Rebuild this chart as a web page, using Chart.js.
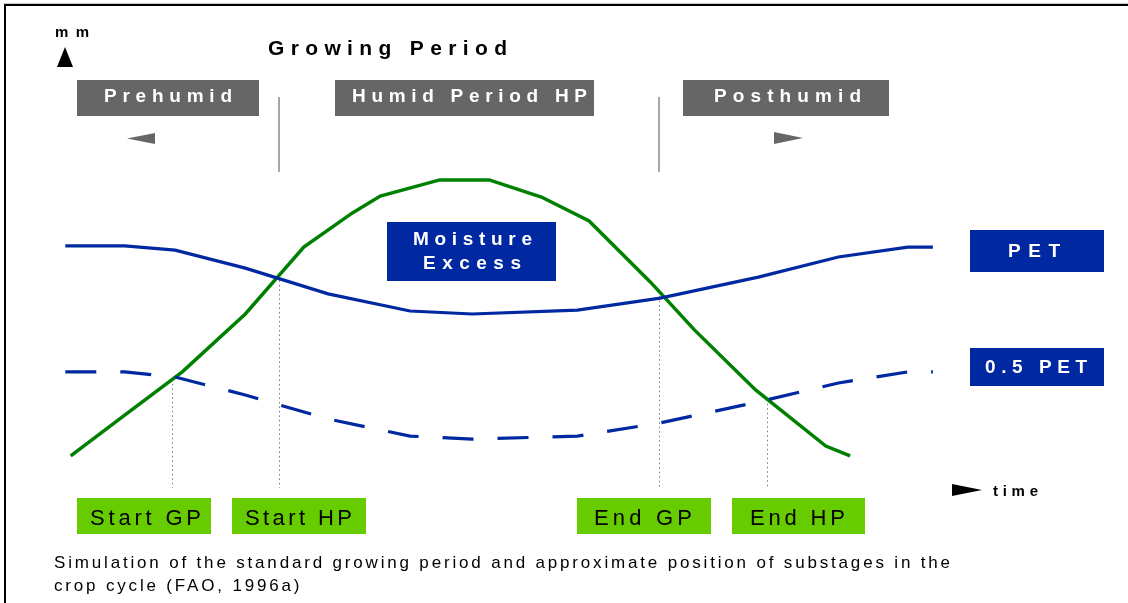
<!DOCTYPE html>
<html>
<head>
<meta charset="utf-8">
<title>Growing Period</title>
<style>
  html, body { margin: 0; padding: 0; background: #fff; }
  canvas { display: block; }
</style>
</head>
<body>
<canvas id="chart" width="1128" height="603"></canvas>
<script src="https://cdn.jsdelivr.net/npm/chart.js@4/dist/chart.umd.min.js"></script>
<script>
// time axis 0..100, mm axis 0..100 (relative)
const petTime = [1.7, 8.3, 13.9, 21.7, 30.9, 40, 46.9, 58.6, 67.8, 78.7, 87.6, 95.3, 98.1];
const petValues = [74.7, 74.7, 73.3, 67.3, 58.7, 53, 52, 53.3, 57.3, 64.3, 71, 74.3, 74.3];
const halfPetTime = [1.7, 8.3, 13.9, 21.7, 30.9, 40, 46.9, 58.6, 67.8, 78.7, 87.6, 95.3, 98.1];
const halfPetValues = [32.7, 32.7, 31, 25, 17, 11.3, 10.3, 11.3, 15.7, 22.7, 29, 32.7, 32.7];
const rainTime = [2.3, 8.3, 14.7, 21.7, 28.2, 33.6, 36.7, 43.3, 48.8, 54.6, 59.9, 66.7, 71.6, 78.4, 86.2, 88.9];
const rainValues = [4.7, 18.3, 32.7, 52, 74.3, 85.7, 91.3, 96.7, 96.7, 91, 83, 62.7, 46.7, 26.7, 8, 4.7];

// substages (where rainfall crosses PET / 0.5 PET)
const stageLabels = ['Start GP', 'Start HP', 'End GP', 'End HP'];
const stageTimes = [13.6, 25.4, 67.7, 79.7];
const periodLabels = ['Prehumid', 'Humid Period HP', 'Posthumid'];

const BLUE = '#0028A0';
const GREEN = '#008000';
const GREEN_BOX = '#66CC00';
const GRAY_BOX = '#666666';
const FONT = '"Liberation Sans", Arial, sans-serif';

function toPoints(xs, ys) {
    return xs.map((x, i) => ({ x: x, y: ys[i] }));
}

// value of a series at time t (linear between points)
function valueAt(xs, ys, t) {
    for (let i = 1; i < xs.length; i++) {
        if (t <= xs[i]) {
            const f = (t - xs[i - 1]) / (xs[i] - xs[i - 1]);
            return ys[i - 1] + f * (ys[i] - ys[i - 1]);
        }
    }
    return ys[ys.length - 1];
}

// text stretched with letter spacing to a given width
function spaced(ctx, text, left, baseline, width, spacing) {
    ctx.letterSpacing = '0px';
    const w0 = ctx.measureText(text).width;
    const sp = spacing !== undefined ? spacing : (width - w0) / (text.length - 1);
    ctx.letterSpacing = sp + 'px';
    ctx.textAlign = 'left';
    ctx.textBaseline = 'alphabetic';
    ctx.fillText(text, left, baseline);
    ctx.letterSpacing = '0px';
    return sp;
}

function tri(ctx, pts, color) {
    ctx.fillStyle = color;
    ctx.beginPath();
    ctx.moveTo(pts[0], pts[1]);
    ctx.lineTo(pts[2], pts[3]);
    ctx.lineTo(pts[4], pts[5]);
    ctx.closePath();
    ctx.fill();
}

const diagramPlugin = {
    id: 'diagram',
    beforeDraw(chart) {
        const ctx = chart.ctx;
        ctx.save();
        ctx.fillStyle = '#fff';
        ctx.fillRect(0, 0, chart.width, chart.height);
        ctx.restore();
    },
    beforeDatasetsDraw(chart) {
        const ctx = chart.ctx;
        const xs = chart.scales.x, ys = chart.scales.y;
        ctx.save();
        // dotted drop lines from the crossings
        ctx.strokeStyle = '#777';
        ctx.lineWidth = 1;
        ctx.setLineDash([1.5, 3]);
        stageTimes.forEach(t => {
            const px = Math.round(xs.getPixelForValue(t)) + 0.5;
            const py = ys.getPixelForValue(valueAt(rainTime, rainValues, t));
            ctx.beginPath();
            ctx.moveTo(px, py);
            ctx.lineTo(px, 488);
            ctx.stroke();
        });
        ctx.setLineDash([]);
        // solid period boundaries at the top
        ctx.strokeStyle = '#8a8a8a';
        ctx.lineWidth = 1.5;
        [stageTimes[1], stageTimes[2]].forEach(t => {
            const px = Math.round(xs.getPixelForValue(t));
            ctx.beginPath();
            ctx.moveTo(px, 97);
            ctx.lineTo(px, 172);
            ctx.stroke();
        });
        ctx.restore();
    },
    afterDraw(chart) {
        const ctx = chart.ctx;
        ctx.save();

        // frame
        ctx.fillStyle = '#c8c8c8';
        ctx.fillRect(4, 3, 1124, 1);
        ctx.fillStyle = '#000';
        ctx.fillRect(5, 4, 1123, 2);
        ctx.fillRect(4, 4, 2, 599);

        // y axis label
        ctx.fillStyle = '#000';
        ctx.font = 'bold 15px ' + FONT;
        spaced(ctx, 'm m', 55, 37, 34);
        tri(ctx, [65, 47, 73, 67, 57, 67], '#000');

        // title
        ctx.font = 'bold 21px ' + FONT;
        spaced(ctx, 'Growing Period', 268, 55, 239);

        // period boxes
        const periodBoxes = [[77, 80, 182, 36], [335, 80, 259, 36], [683, 80, 206, 36]];
        const periodText = [[104, 128], [352, 235], [714, 147]];
        ctx.font = 'bold 19px ' + FONT;
        periodLabels.forEach((lab, i) => {
            const b = periodBoxes[i];
            ctx.fillStyle = GRAY_BOX;
            ctx.fillRect(b[0], b[1], b[2], b[3]);
            ctx.fillStyle = '#fff';
            spaced(ctx, lab, periodText[i][0], 102, periodText[i][1]);
        });
        tri(ctx, [155, 133, 127, 138.5, 155, 144], GRAY_BOX);
        tri(ctx, [774, 132, 803, 138, 774, 144], GRAY_BOX);

        // blue boxes
        ctx.fillStyle = BLUE;
        ctx.fillRect(387, 222, 169, 59);
        ctx.fillRect(970, 230, 134, 42);
        ctx.fillRect(970, 348, 134, 38);
        ctx.fillStyle = '#fff';
        ctx.font = 'bold 19px ' + FONT;
        spaced(ctx, 'Moisture', 413, 245, 119);
        spaced(ctx, 'Excess', 423, 269, 98);
        spaced(ctx, 'PET', 1008, 257, 52);
        spaced(ctx, '0.5 PET', 985, 373, 102);

        // stage boxes
        const stageBoxes = [[77, 498, 134, 36], [232, 498, 134, 36], [577, 498, 134, 36], [732, 498, 133, 36]];
        const stageText = [[90, 111], [245, 107], [594, 98], [750, 95]];
        ctx.font = '22px ' + FONT;
        stageLabels.forEach((lab, i) => {
            const b = stageBoxes[i];
            ctx.fillStyle = GREEN_BOX;
            ctx.fillRect(b[0], b[1], b[2], b[3]);
            ctx.fillStyle = '#000';
            spaced(ctx, lab, stageText[i][0], 525, stageText[i][1]);
        });

        // time arrow
        tri(ctx, [952, 484, 982, 490, 952, 496], '#000');
        ctx.fillStyle = '#000';
        ctx.font = 'bold 15px ' + FONT;
        spaced(ctx, 'time', 993, 496, 45);

        // caption
        ctx.font = '17px ' + FONT;
        const sp = spaced(ctx, 'Simulation of the standard growing period and approximate position of substages in the', 54, 568, 896);
        spaced(ctx, 'crop cycle (FAO, 1996a)', 54, 591, 0, sp);

        ctx.restore();
    }
};

new Chart(document.getElementById('chart'), {
    type: 'line',
    data: {
        datasets: [
            {
                label: 'PET',
                data: toPoints(petTime, petValues),
                borderColor: BLUE,
                borderWidth: 3.2,
                pointRadius: 0,
                tension: 0,
                fill: false
            },
            {
                label: '0.5 PET',
                data: toPoints(halfPetTime, halfPetValues),
                borderColor: BLUE,
                borderWidth: 3.2,
                borderDash: [31, 24],
                pointRadius: 0,
                tension: 0,
                fill: false
            },
            {
                label: 'Rainfall',
                data: toPoints(rainTime, rainValues),
                borderColor: GREEN,
                borderWidth: 3.5,
                pointRadius: 0,
                tension: 0,
                fill: false
            }
        ]
    },
    options: {
        responsive: false,
        animation: false,
        events: [],
        layout: { padding: { left: 50, right: 178, top: 170, bottom: 133 } },
        plugins: {
            legend: { display: false },
            tooltip: { enabled: false }
        },
        scales: {
            x: { type: 'linear', min: 0, max: 100, display: false },
            y: { type: 'linear', min: 0, max: 100, display: false }
        }
    },
    plugins: [diagramPlugin]
});
</script>
</body>
</html>
